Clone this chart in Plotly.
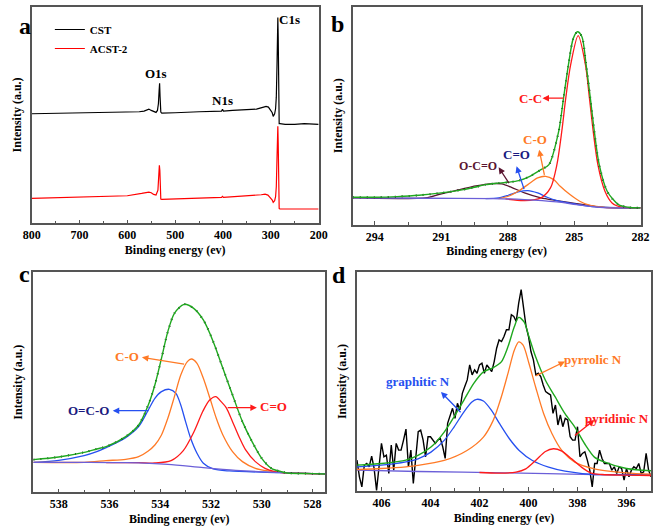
import plotly.graph_objects as go

FONT = "Liberation Serif, Times New Roman, serif"

# ---------------- Panel a : survey spectra (arbitrary intensity units) ----------------
cst_energy = [800, 750, 700, 650, 600, 575, 565, 560, 555, 550, 545, 540, 537, 535, 533.5, 532.5, 531.5,
              530, 528, 520, 500, 450, 410, 403, 401, 399, 380, 350, 330, 315, 310, 305, 300, 297, 295,
              292, 290, 288.5, 287, 286, 285.3, 284.5, 284, 283.3, 282.5, 281, 270, 250, 230, 200]
cst_intensity = [330, 331, 332, 333, 335, 336, 338, 342, 344, 340, 336, 334, 340, 360, 400, 422, 380,
                 335, 332, 332, 333, 336, 338, 338, 343, 338, 340, 342, 344, 350, 352, 350, 340, 333, 322,
                 330, 345, 380, 480, 590, 620, 560, 450, 320, 300, 300, 298, 298, 300, 298]
acst_energy = [800, 700, 600, 570, 560, 555, 550, 545, 540, 536, 534, 533, 532, 531, 530, 528, 500, 450,
               403, 401, 399, 350, 320, 312, 306, 300, 297, 295, 292, 290, 288.5, 287, 286, 285.3, 284.5,
               284, 283.3, 282.5, 281, 250, 200]
acst_intensity = [75, 78, 83, 90, 94, 94, 92, 87, 85, 100, 150, 175, 160, 110, 73, 72, 74, 76,
                  78, 81, 78, 82, 86, 88, 85, 75, 70, 63, 68, 80, 110, 200, 270, 292, 240,
                  160, 60, 45, 43, 43, 43]

# ---------------- Panel b : C1s ----------------
b_env_e = [295, 294, 293, 292, 291, 290, 289.5, 289, 288.5, 288, 287.5, 287, 286.5, 286.14, 285.7, 285.48,
           285.26, 285.04, 284.85, 284.65, 284.46, 284.27, 284.09, 283.87, 283.51, 283.0, 282.56, 282.0]
b_env_i = [82, 82, 84, 88, 95, 105, 112, 120, 124, 127, 132, 145, 165, 180, 280, 380,
           480, 560, 580, 565, 480, 380, 280, 180, 100, 60, 52, 50]
b_cc_e = [288.1, 287.24, 286.5, 286.07, 285.78, 285.56, 285.38, 285.16, 284.82, 284.49, 284.31, 284.14,
          283.93, 283.61, 283.29, 282.85, 282.0]
b_cc_i = [77, 72, 80, 110, 180, 280, 380, 480, 568, 480, 380, 280, 180, 100, 65, 52, 50]
b_co_e = [288.41, 287.97, 287.53, 287.09, 286.65, 286.29, 285.92, 285.63, 285.19, 284.75, 284.31, 283.58, 282.0]
b_co_i = [78, 85, 100, 120, 140, 145, 135, 115, 90, 70, 58, 51, 50]
b_c_o_e = [289.0, 288.41, 287.97, 287.53, 287.09, 286.65, 286.22, 285.78, 284.9, 284.02, 282.0]
b_c_o_i = [78, 80, 88, 98, 102, 95, 82, 72, 61, 53, 50]
b_occo_e = [295, 291.63, 290.9, 290.17, 289.44, 288.7, 288.27, 287.83, 287.24, 286.5, 285.78, 284.9,
            284.02, 283.14, 282.0]
b_occo_i = [80, 81, 94, 105, 116, 123, 122, 112, 95, 80, 72, 63, 54, 50, 50]
b_bg_e = [295, 291.63, 288.7, 287.24, 285.78, 284.9, 284.02, 283.43, 282.0]
b_bg_i = [80, 79, 78, 75, 68, 60, 53, 50, 50]

# ---------------- Panel c : O1s ----------------
c_env_e = [539, 538, 537, 536.5, 536.13, 535.36, 534.85, 534.47, 534.21, 533.95, 533.7, 533.44, 533.06,
           532.68, 532.3, 531.91, 531.53, 531.15, 530.76, 530.38, 530.0, 529.62, 529.23, 529, 528, 527.5]
c_env_i = [98, 106, 120, 130, 137, 167, 202, 262, 322, 402, 482, 537, 564,
           552, 517, 452, 372, 292, 212, 152, 102, 72, 62, 58, 56, 55]
c_ocOo_e = [539, 538, 537, 536.5, 536.13, 535.36, 534.85, 534.47, 534.21, 533.95, 533.64, 533.38, 533.19,
            533.0, 532.8, 532.55, 532.3, 531.91, 531.27, 529.23, 528, 527.5]
c_ocOo_i = [90, 96, 110, 122, 134, 164, 197, 247, 282, 302, 309, 297, 262,
            212, 162, 117, 87, 70, 64, 59, 56, 55]
c_co_e = [539, 537, 536.13, 535.36, 534.85, 534.47, 534.21, 533.95, 533.7, 533.44, 533.19, 532.93, 532.77,
          532.55, 532.3, 532.04, 531.79, 531.53, 531.15, 530.76, 530.25, 529.74, 529.23, 528, 527.5]
c_co_i = [90, 90, 95, 99, 107, 124, 142, 172, 222, 287, 352, 392, 400,
          387, 342, 282, 222, 172, 122, 92, 72, 64, 60, 56, 55]
c_cdo_e = [536.13, 534.85, 534.21, 533.57, 533.09, 532.66, 532.32, 532.06, 531.81, 531.6, 531.4,
           531.15, 530.89, 530.64, 530.25, 529.87, 529.49, 529.23, 528, 527.5]
c_cdo_i = [89, 89, 88, 95, 125, 183, 243, 276, 287, 272, 254,
           212, 166, 128, 92, 72, 62, 59, 56, 55]
c_bg_e = [539, 537, 535.36, 533.7, 532.3, 531.02, 529.23, 528, 527.5]
c_bg_i = [90, 90, 89, 84, 74, 66, 59, 56, 55]

# ---------------- Panel d : N1s ----------------
d_raw_e = [407.0, 406.9, 406.8, 406.7, 406.6, 406.5, 406.4, 406.3, 406.2, 406.1,
           406.0, 405.9, 405.8, 405.7, 405.6, 405.5, 405.4, 405.3, 405.2, 405.1,
           405.0, 404.9, 404.8, 404.7, 404.6, 404.5, 404.4, 404.3, 404.2, 404.1,
           404.0, 403.9, 403.8, 403.7, 403.6, 403.5, 403.4, 403.3, 403.2, 403.1,
           403.0, 402.9, 402.8, 402.7, 402.6, 402.5, 402.4, 402.3, 402.2, 402.1,
           402.0, 401.9, 401.8, 401.7, 401.6, 401.5, 401.4, 401.3, 401.2, 401.1,
           401.0, 400.9, 400.8, 400.7, 400.6, 400.5, 400.4, 400.3, 400.2, 400.1,
           400.0, 399.9, 399.8, 399.7, 399.6, 399.5, 399.4, 399.3, 399.2, 399.1,
           399.0, 398.9, 398.8, 398.7, 398.6, 398.5, 398.4, 398.3, 398.2, 398.1,
           398.0, 397.9, 397.8, 397.7, 397.6, 397.5, 397.4, 397.3, 397.2, 397.1,
           397.0, 396.9, 396.8, 396.7, 396.6, 396.5, 396.4, 396.3, 396.2, 396.1,
           396.0, 395.9, 395.8, 395.7, 395.6, 395.5, 395.4, 395.3, 395.2, 395.1,
           395.0]
d_raw_i = [93, 43, 13, 78, 83, 73, 105, 68, 2, 83,
           143, 103, 108, 53, 138, 63, 143, 123, 123, 153,
           186, 73, 123, 23, 93, 178, 183, 153, 103, 163,
           163, 153, 143, 153, 158, 133, 98, 203, 223, 248,
           218, 263, 243, 293, 313, 333, 378, 348, 363, 353,
           378, 383, 353, 378, 368, 358, 388, 428, 453, 448,
           463, 483, 483, 528, 523, 508, 563, 603, 548, 493,
           463, 418, 393, 348, 353, 343, 318, 298, 293, 288,
           233, 258, 198, 228, 193, 218, 213, 163, 153, 153,
           193, 103, 113, 118, 93, 63, 13, 83, 83, 123,
           98, 83, 83, 83, 63, 73, 53, 73, 68, 33,
           68, 43, 63, 73, 68, 83, 53, 58, 113, 63,
           43]
d_env_e = [407, 406, 405, 404.51, 403.98, 403.44, 403.04, 402.64, 402.24, 401.84, 401.44, 401.11, 400.84,
           400.58, 400.4, 400.18, 399.98, 399.71, 399.31, 398.91, 398.51, 398.11, 397.71, 397.31, 397, 396, 395]
d_env_i = [78, 83, 93, 107, 132, 177, 222, 272, 322, 357, 370, 387, 432,
           492, 520, 507, 462, 402, 332, 282, 232, 192, 142, 102, 90, 68, 61]
d_gra_e = [407, 406, 405, 404.51, 403.98, 403.44, 403.04, 402.64, 402.31, 402.11, 401.84, 401.51, 401.18,
           400.78, 400.38, 399.84, 399.18, 398.51, 397.31, 396, 395]
d_gra_i = [73, 78, 88, 97, 117, 152, 192, 237, 267, 275, 270, 242, 202,
           157, 122, 92, 72, 60, 50, 50, 49]
d_pyr_e = [407, 406, 405, 404.51, 403.44, 402.51, 401.84, 401.44, 401.11, 400.84, 400.58, 400.4, 400.22,
           399.98, 399.71, 399.38, 399.04, 398.64, 398.11, 397.31, 396, 395]
d_pyr_i = [65, 68, 73, 77, 92, 122, 162, 212, 282, 352, 422, 447, 437,
           382, 312, 232, 172, 122, 87, 67, 55, 51]
d_pyd_e = [402, 401.18, 400.51, 400.11, 399.71, 399.31, 398.98, 398.64, 398.24, 397.84, 397.44, 397.0, 396, 395]
d_pyd_i = [56, 54, 57, 67, 92, 119, 127, 120, 97, 72, 54, 50, 48, 47]
d_bg_e = [407, 404.5, 401, 397.3, 395]
d_bg_i = [63, 59, 55, 49.5, 48]

RED = "#ff1a1a"
GREEN = "#1fa81f"
ORANGE = "#ff7a26"
BLUE = "#2650f0"
BG = "#6b5fd8"
MAROON = "#5a1530"
NAVY = "#1a1a80"

fig = go.Figure()


def line(x, y, color, ax, width=1.3, dash=None, shape="spline", name=None, legend=False):
    fig.add_trace(go.Scatter(x=x, y=y, mode="lines", name=name, showlegend=legend,
                             line=dict(color=color, width=width, dash=dash, shape=shape,
                                       smoothing=0.8 if shape == "spline" else None),
                             xaxis="x" + ax, yaxis="y" + ax, hoverinfo="skip"))


# panel a
line(cst_energy, cst_intensity, "black", "", 1.2, shape="linear", name="CST", legend=True)
line(acst_energy, acst_intensity, "red", "", 1.2, shape="linear", name="ACST-2", legend=True)

# panel b
line(b_occo_e, b_occo_i, MAROON, "2")
line(b_c_o_e, b_c_o_i, BLUE, "2")
line(b_co_e, b_co_i, ORANGE, "2")
line(b_cc_e, b_cc_i, RED, "2")
line(b_bg_e, b_bg_i, BG, "2")
line(b_env_e, b_env_i, "black", "2", 2.0, dash="1px,6px")
line(b_env_e, b_env_i, GREEN, "2", 1.4)

# panel c
line(c_ocOo_e, c_ocOo_i, BLUE, "3")
line(c_co_e, c_co_i, ORANGE, "3")
line(c_cdo_e, c_cdo_i, RED, "3")
line(c_bg_e, c_bg_i, BG, "3")
line(c_env_e, c_env_i, "black", "3", 2.0, dash="1px,6px")
line(c_env_e, c_env_i, GREEN, "3", 1.4)

# panel d
line(d_raw_e, d_raw_i, "black", "4", 1.4, shape="linear")
line(d_bg_e, d_bg_i, BG, "4")
line(d_gra_e, d_gra_i, BLUE, "4")
line(d_pyr_e, d_pyr_i, ORANGE, "4")
line(d_pyd_e, d_pyd_i, RED, "4")
line(d_env_e, d_env_i, GREEN, "4", 1.4)

W, H = 661, 526


def dom_x(l, r):
    return [l / W, r / W]


def dom_y(top, bottom):
    return [1 - bottom / H, 1 - top / H]


tickfont = dict(family=FONT, size=12, color="black", weight="bold")
titlefont = dict(family=FONT, size=12, color="black", weight="bold")
AXC = "#555555"


def xax(domain, anchor, rng, dtick, minor, tick0):
    return dict(domain=domain, anchor=anchor, range=rng, dtick=dtick, tick0=tick0,
                ticks="inside", ticklen=4, tickwidth=1.2, tickcolor=AXC,
                minor=dict(dtick=minor, ticks="inside", ticklen=3, tickwidth=1, tickcolor=AXC),
                showline=True, linecolor=AXC, linewidth=1.5, mirror=True,
                showgrid=False, zeroline=False, tickfont=tickfont,
                title=dict(text="Binding energy (ev)", font=titlefont, standoff=4))


def yax(domain, anchor, rng):
    return dict(domain=domain, anchor=anchor, range=rng, showticklabels=False, ticks="",
                showline=True, linecolor=AXC, linewidth=1.5, mirror=True,
                showgrid=False, zeroline=False,
                title=dict(text="Intensity (a.u.)", font=titlefont, standoff=6))


fig.update_layout(
    width=W, height=H, margin=dict(l=0, r=0, t=0, b=0),
    paper_bgcolor="white", plot_bgcolor="white",
    xaxis=xax(dom_x(23.3, 318.3), "y", [800, 200], 100, 50, 200),
    yaxis=yax(dom_y(6.5, 223.3), "x", [0, 653]),
    xaxis2=xax(dom_x(353.3, 649.3), "y2", [295, 282], 3, 1.5, 282),
    yaxis2=yax(dom_y(6.8, 224.5), "x2", [0, 655]),
    xaxis3=xax(dom_x(25, 325), "y3", [539, 527.5], 2, 1, 528),
    yaxis3=yax(dom_y(272, 492.3), "x3", [0, 661]),
    xaxis4=xax(dom_x(357.7, 660), "y4", [407, 395], 2, 1, 396),
    yaxis4=yax(dom_y(272, 491.2), "x4", [0, 656]),
    legend=dict(x=42 / W, y=1 - 15 / H, xanchor="left", yanchor="top", bgcolor="rgba(0,0,0,0)",
                font=dict(family=FONT, size=11, color="black", weight="bold"),
                itemwidth=30, tracegroupgap=0),
    showlegend=True,
)

ann = []


def label(text, x, y, ax, color, size=12):
    ann.append(dict(text=text, x=x, y=y, xref="x" + ax, yref="y" + ax, showarrow=False,
                    font=dict(family=FONT, size=size, color=color, weight="bold")))


def arrow(x, y, tx, ty, ax, color):
    ann.append(dict(text="", x=x, y=y, ax=tx, ay=ty, xref="x" + ax, yref="y" + ax,
                    axref="x" + ax, ayref="y" + ax, showarrow=True, arrowhead=2,
                    arrowsize=1, arrowwidth=1.3, arrowcolor=color, standoff=0, startstandoff=0))


# panel a peak labels
label("O1s", 539, 452, "", "black", 13)
label("N1s", 400, 370, "", "black", 13)
label("C1s", 261, 615, "", "black", 13)

# panel b
label("C-C", 286.95, 380, "2", RED, 13)
arrow(286.43, 380, 285.41, 380, "2", RED)
label("C-O", 286.77, 255, "2", ORANGE, 13)
arrow(286.58, 225, 286.33, 145, "2", ORANGE)
label("C=O", 287.6, 210, "2", NAVY, 13)
arrow(287.6, 175, 287.24, 102, "2", BLUE)
label("O-C=O", 289.36, 175, "2", MAROON, 12)
arrow(288.41, 172, 287.9, 120, "2", MAROON)

# panel c
label("C-O", 535.3, 407, "3", ORANGE, 13)
arrow(534.72, 405, 533.0, 384, "3", ORANGE)
label("O=C-O", 536.83, 245, "3", NAVY, 13)
arrow(535.87, 245, 534.4, 245, "3", BLUE)
label("C=O", 529.55, 256, "3", RED, 13)
arrow(530.19, 254, 531.4, 254, "3", RED)

# panel d
label("graphitic N", 404.51, 328, "4", BLUE, 13)
arrow(403.57, 297, 402.71, 232, "4", BLUE)
label("pyrrolic N", 397.37, 393, "4", ORANGE, 13)
arrow(398.51, 388, 399.77, 343, "4", ORANGE)
label("pyridinic N", 396.37, 218, "4", RED, 13)
arrow(397.31, 213, 398.17, 163, "4", RED)

# panel letters
for t, px, py in [("a", 8, 11), ("b", 338, 9), ("c", 8, 274), ("d", 339, 275)]:
    ann.append(dict(text=t, x=px / W, y=1 - py / H, xref="paper", yref="paper", showarrow=False,
                    font=dict(family=FONT, size=24, color="black", weight="bold")))

fig.update_layout(annotations=ann)
fig.write_html("out.html", config={"displayModeBar": False})
